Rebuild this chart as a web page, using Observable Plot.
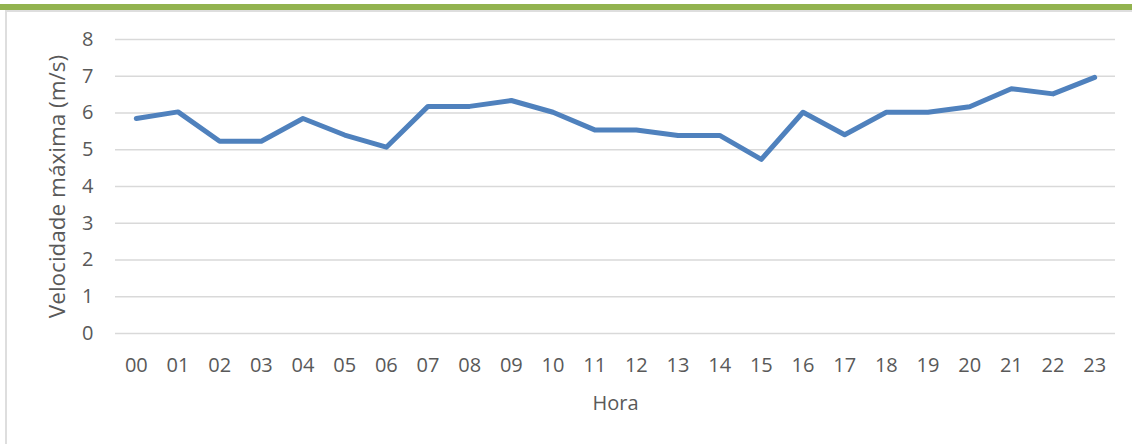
<!DOCTYPE html>
<html>
<head>
<meta charset="utf-8">
<script src="https://cdn.jsdelivr.net/npm/d3@7"></script>
<script src="https://cdn.jsdelivr.net/npm/@observablehq/plot@0.6"></script>
<style>
  html, body { margin: 0; padding: 0; background: #fff; }
  #wrap { position: relative; width: 1132px; height: 444px; overflow: hidden; }
  #chart { position: absolute; left: 0; top: 0; }
  .deco { position: absolute; pointer-events: none; }
</style>
</head>
<body>
<div id="wrap">
  <div id="chart"></div>
  <div class="deco" style="left:0;top:4px;width:1132px;height:6px;background:#92b34f;"></div>
  <div class="deco" style="left:5px;top:10px;width:1127px;height:2px;background:#dedede;"></div>
  <div class="deco" style="left:5px;top:10px;width:2px;height:434px;background:#dedede;"></div>
</div>
<script>
const hours = ["00","01","02","03","04","05","06","07","08","09","10","11","12","13","14","15","16","17","18","19","20","21","22","23"];
const speeds = [5.85, 6.03, 5.23, 5.23, 5.85, 5.40, 5.07, 6.18, 6.18, 6.34, 6.02, 5.54, 5.54, 5.39, 5.39, 4.74, 6.02, 5.41, 6.02, 6.02, 6.17, 6.66, 6.52, 6.97];
const yTicks = [0, 1, 2, 3, 4, 5, 6, 7, 8];
const xLabel = "Hora";
const yLabel = "Velocidade máxima (m/s)";

const data = hours.map((h, i) => ({hora: h, vel: speeds[i]}));

const chart = Plot.plot({
  width: 1132,
  height: 444,
  marginLeft: 115,
  marginRight: 17,
  marginTop: 39,
  marginBottom: 111,
  style: {fontFamily: "'Open Sans', sans-serif", fontSize: "20px", color: "#595959", background: "transparent"},
  x: {type: "point", domain: hours, padding: 0.5, round: false, label: null},
  y: {domain: [0, 8], ticks: yTicks, label: null},
  marks: [
    Plot.gridY(yTicks, {stroke: "#d9d9d9", strokeOpacity: 1, strokeWidth: 1.4}),
    Plot.axisY(yTicks, {tickSize: 0, tickPadding: 22, label: null}),
    Plot.axisX(hours, {tickSize: 0, tickPadding: 24, label: null}),
    Plot.text([xLabel], {frameAnchor: "bottom", dy: 76, text: d => d, fill: "#595959"}),
    Plot.text([yLabel], {frameAnchor: "left", textAnchor: "middle", dx: -58, rotate: -90, fontSize: 22.5, text: d => d, fill: "#595959"}),
    Plot.line(data, {x: "hora", y: "vel", stroke: "#4f81bd", strokeWidth: 5, strokeLinejoin: "round", strokeLinecap: "round"})
  ]
});
document.getElementById("chart").appendChild(chart);
</script>
</body>
</html>
